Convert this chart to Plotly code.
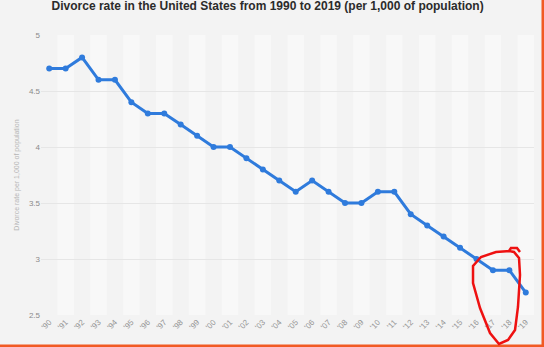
import plotly.graph_objects as go

years = ["'90","'91","'92","'93","'94","'95","'96","'97","'98","'99",
         "'00","'01","'02","'03","'04","'05","'06","'07","'08","'09",
         "'10","'11","'12","'13","'14","'15","'16","'17","'18","'19"]
rates = [4.7, 4.7, 4.8, 4.6, 4.6, 4.4, 4.3, 4.3, 4.2, 4.1,
         4.0, 4.0, 3.9, 3.8, 3.7, 3.6, 3.7, 3.6, 3.5, 3.5,
         3.6, 3.6, 3.4, 3.3, 3.2, 3.1, 3.0, 2.9, 2.9, 2.7]
y_ticks = [2.5, 3, 3.5, 4, 4.5, 5]

W, H = 544, 347
L, R, T, B = 41, 10, 35, 32
PW, PH = W - L - R, H - T - B

def px(x):
    return (x - L) / PW

def py(y):
    return (H - B - y) / PH

fig = go.Figure()
fig.add_trace(go.Scatter(
    x=years, y=rates, mode="lines+markers",
    line=dict(color="#2f7bdc", width=3),
    marker=dict(color="#2f7bdc", size=6),
    hoverinfo="x+y", showlegend=False,
))

shapes = []
# alternating lighter column bands
for i in range(1, len(years), 2):
    shapes.append(dict(type="rect", xref="x", yref="paper",
                       x0=i - 0.5, x1=i + 0.5, y0=0, y1=1,
                       fillcolor="#f8f8f8", line=dict(width=0), layer="below"))
# orange frame edges
shapes.append(dict(type="rect", xref="paper", yref="paper",
                   x0=px(541.5), x1=px(545), y0=py(-2), y1=py(348),
                   fillcolor="#f15a24", line=dict(width=0), layer="above"))
shapes.append(dict(type="rect", xref="paper", yref="paper",
                   x0=px(-2), x1=px(545), y0=py(348), y1=py(344.6),
                   fillcolor="#f15a24", line=dict(width=0), layer="above"))
# red hand-drawn loop
loop_px = [(520, 252), (517, 248), (511, 248), (509, 251), (514, 252), (519, 258),
           (520, 275), (518, 307), (515, 330), (508, 340), (499, 344),
           (490, 333), (480, 308), (473, 283), (473, 266), (481, 257),
           (496, 252), (511, 251)]
path = "M " + " L ".join(f"{px(x):.4f},{py(y):.4f}" for x, y in loop_px)
shapes.append(dict(type="path", xref="paper", yref="paper", path=path,
                   line=dict(color="#ee1111", width=2.5), layer="above"))

fig.update_layout(
    width=W, height=H,
    margin=dict(l=L, r=R, t=T, b=B),
    paper_bgcolor="#f3f3f3", plot_bgcolor="#f3f3f3",
    font=dict(family="Liberation Sans, Arial, sans-serif"),
    title=dict(text="<b>Divorce rate in the United States from 1990 to 2019 (per 1,000 of population)</b>",
               x=0.492, xanchor="center", y=1 - 6 / H, yanchor="middle",
               font=dict(size=12, color="#2b2b2b")),
    xaxis=dict(type="category", range=[-0.5, len(years) - 0.5],
               tickangle=-45, tickfont=dict(size=8, color="#959595"),
               showgrid=False, zeroline=False, showline=False, ticks=""),
    yaxis=dict(range=[2.5, 5], tickvals=y_ticks, ticktext=[str(v) for v in y_ticks],
               tickfont=dict(size=8, color="#8a8a8a"),
               gridcolor="#e6e6e6", gridwidth=1, zeroline=False, showline=False,
               title=dict(text="Divorce rate per 1,000 of population",
                          font=dict(size=7, color="#b5b5b5"), standoff=8)),
    shapes=shapes,
)

fig.write_html("out.html")
